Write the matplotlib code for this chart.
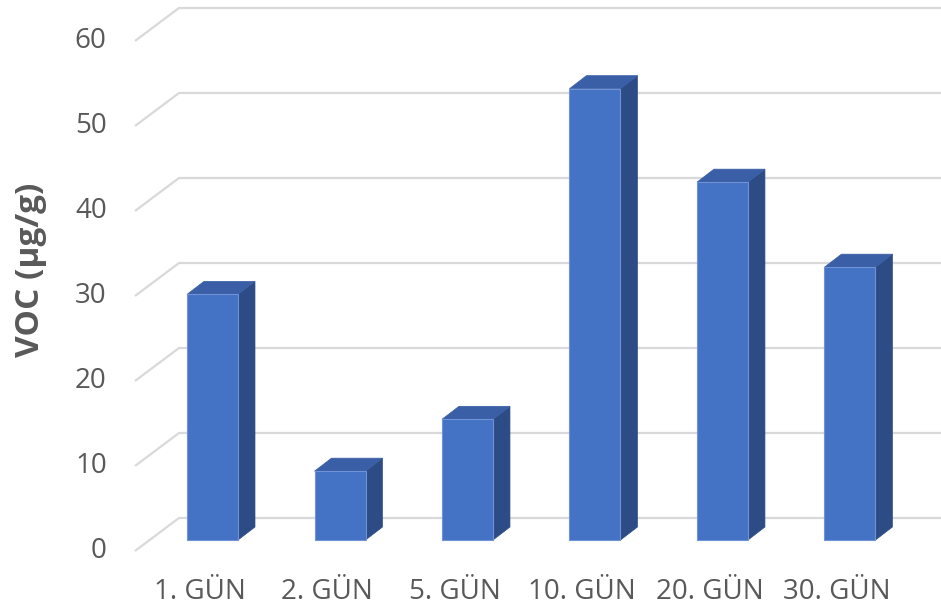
import matplotlib
matplotlib.use("Agg")
from matplotlib import pyplot as plt
from matplotlib.patches import Polygon

categories = ["1. GÜN", "2. GÜN", "5. GÜN", "10. GÜN", "20. GÜN", "30. GÜN"]
values = [28.9, 8.1, 14.2, 53.1, 42.1, 32.1]
y_ticks = [0, 10, 20, 30, 40, 50, 60]
y_label = "VOC (µg/g)"

# colours
front_col = "#4472C4"
top_col = "#3A5FA6"
side_col = "#2D4C86"
edge_col = "#6F93D6"
grid_col = "#D9D9D9"
text_col = "#595959"

# fake 3d geometry (category units / value units)
bar_w = 0.40
bar_dx = 0.133
bar_dy = 1.53
wall_front_x, wall_front_dy = -0.608, -1.29
wall_back_x, wall_back_dy = -0.263, 2.59

plt.rcParams["font.family"] = ["Open Sans", "DejaVu Sans"]

fig = plt.figure(figsize=(9.41, 6.11), dpi=100)
ax = fig.add_axes([0, 0, 1, 1])
ax.set_xlim(-1.667, 5.714)
ax.set_ylim(-8.35, 63.53)
ax.axis("off")

# gridlines (front diagonal + back wall)
for v in y_ticks:
    ax.plot([wall_front_x, wall_back_x, 5.714],
            [v + wall_front_dy, v + wall_back_dy, v + wall_back_dy],
            color=grid_col, lw=1.6, zorder=1, solid_capstyle="butt")
    ax.text(-0.83, v + wall_front_dy, str(v), ha="right", va="center",
            fontsize=20, color=text_col)

# bars
for i, v in enumerate(values):
    l = i - bar_w / 2
    r = i + bar_w / 2
    front = Polygon([(l, 0), (r, 0), (r, v), (l, v)], closed=True,
                    facecolor=front_col, edgecolor=edge_col, lw=0.8, zorder=3)
    side = Polygon([(r, 0), (r + bar_dx, bar_dy), (r + bar_dx, v + bar_dy), (r, v)],
                   closed=True, facecolor=side_col, edgecolor=side_col, lw=0.5, zorder=2)
    top = Polygon([(l, v), (r, v), (r + bar_dx, v + bar_dy), (l + bar_dx, v + bar_dy)],
                  closed=True, facecolor=top_col, edgecolor=top_col, lw=0.5, zorder=2)
    ax.add_patch(side)
    ax.add_patch(top)
    ax.add_patch(front)
    ax.text(i - 0.1, -6.1, categories[i], ha="center", va="center",
            fontsize=20, color=text_col)

ax.text(-1.43, 31.8, y_label, rotation=90, ha="center", va="center",
        fontsize=24, fontweight="bold", color=text_col)

fig.savefig("out.png", dpi=100)
